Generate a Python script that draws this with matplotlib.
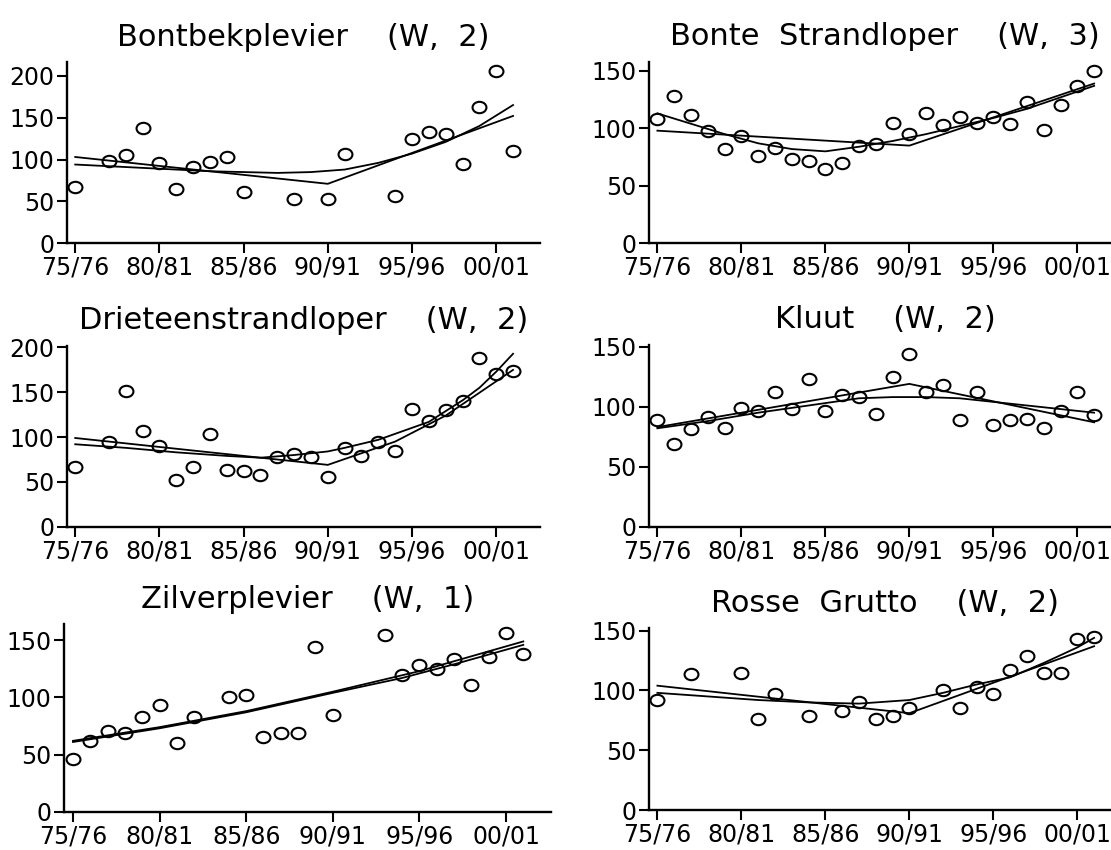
import matplotlib
matplotlib.use("Agg")
import matplotlib.pyplot as plt
from matplotlib.path import Path
from matplotlib.transforms import Affine2D

# seizoenen: index 0 = 75/76 ... 26 = 01/02
seizoen_ticks = [0, 5, 10, 15, 20, 25]
seizoen_labels = ["75/76", "80/81", "85/86", "90/91", "95/96", "00/01"]

# Bontbekplevier (W, 2)
bontbek_jaar = [0, 2, 3, 4, 5, 6, 7, 8, 9, 10, 13, 15, 16, 19, 20, 21, 22, 23, 24, 25, 26]
bontbek_index = [67, 98, 105, 137, 96, 65, 91, 97, 103, 61, 53, 53, 106, 57, 125, 133, 130, 95, 163, 206, 110]
bontbek_knik_jaar = [0, 15, 26]
bontbek_knik = [103, 71, 152]
bontbek_glad_jaar = [0, 2, 4, 6, 8, 10, 12, 14, 16, 18, 20, 22, 24, 26]
bontbek_glad = [94, 92, 90, 88, 86, 85, 84, 85, 88, 96, 107, 121, 140, 165]

# Bonte Strandloper (W, 3)
bonte_jaar = list(range(27))
bonte_index = [108, 128, 112, 98, 82, 93, 76, 83, 73, 72, 65, 70, 85, 86, 105, 95, 113, 103,
               110, 105, 110, 104, 123, 99, 120, 137, 150]
bonte_knik_jaar = [0, 15, 26]
bonte_knik = [98, 85, 139]
bonte_glad_jaar = [0, 2, 4, 6, 8, 10, 12, 14, 16, 18, 20, 22, 24, 26]
bonte_glad = [113, 104, 95, 87, 82, 80, 84, 89, 95, 102, 109, 117, 127, 137]

# Drieteenstrandloper (W, 2)
drie_jaar = [0, 2, 3, 4, 5, 6, 7, 8, 9, 10, 11, 12, 13, 14, 15, 16, 17, 18, 19, 20, 21, 22, 23, 24, 25, 26]
drie_index = [67, 94, 152, 107, 90, 52, 67, 104, 63, 62, 58, 78, 81, 78, 56, 88, 79, 95, 84, 131,
              118, 130, 140, 188, 170, 174]
drie_knik_jaar = [0, 15, 19, 22, 26]
drie_knik = [99, 69, 95, 124, 175]
drie_glad_jaar = [0, 3, 6, 9, 11, 13, 15, 16, 18, 21, 23, 24, 25, 26]
drie_glad = [92, 88, 83, 79, 77, 80, 84, 88, 97, 117, 141, 155, 173, 193]

# Kluut (W, 2)
kluut_jaar = list(range(27))
kluut_index = [89, 69, 81, 91, 82, 99, 96, 112, 98, 123, 96, 110, 108, 94, 125, 144, 112, 118,
               89, 112, 85, 89, 90, 82, 96, 112, 93]
kluut_knik_jaar = [0, 15, 26]
kluut_knik = [83, 119, 87]
kluut_glad_jaar = [0, 3, 6, 9, 12, 14, 16, 18, 20, 22, 24, 26]
kluut_glad = [82, 88, 95, 101, 107, 108, 108, 107, 104, 101, 98, 95]

# Zilverplevier (W, 1)
zilver_jaar = [0, 1, 2, 3, 4, 5, 6, 7, 9, 10, 11, 12, 13, 14, 15, 18, 19, 20, 21, 22, 23, 24, 25, 26]
zilver_index = [46, 62, 71, 69, 83, 93, 60, 83, 100, 102, 65, 69, 69, 144, 85, 155, 120, 128,
                125, 134, 111, 135, 156, 138]
zilver_knik_jaar = [0, 5, 10, 15, 20, 26]
zilver_knik = [62, 74, 88, 105, 123, 149]
zilver_glad_jaar = [0, 5, 10, 15, 19, 22, 26]
zilver_glad = [61, 73, 87, 104, 117, 129, 146]

# Rosse Grutto (W, 2)
rosse_jaar = [0, 2, 5, 6, 7, 9, 11, 12, 13, 14, 15, 17, 18, 19, 20, 21, 22, 23, 24, 25, 26]
rosse_index = [92, 114, 115, 76, 97, 79, 83, 90, 76, 79, 85, 100, 85, 103, 97, 117, 129, 115, 115, 143, 145]
rosse_knik_jaar = [0, 15, 26]
rosse_knik = [104, 81, 137]
rosse_glad_jaar = [0, 3, 6, 9, 12, 15, 17, 19, 21, 23, 25, 26]
rosse_glad = [98, 95, 92, 90, 89, 92, 98, 105, 111, 123, 136, 144]

plt.rcParams["font.family"] = "DejaVu Sans"

# iets platte open cirkels, zoals in het origineel
ellips = Path.unit_circle().transformed(Affine2D().scale(1.0, 0.82))

W, H = 1111, 850
fig = plt.figure(figsize=(W / 100, H / 100), dpi=100)

# pixel-box: left, right, y van de 0-lijn, bovenkant y-as
panelen = [
    ("Bontbekplevier    (W,  2)", bontbek_jaar, bontbek_index, bontbek_knik_jaar, bontbek_knik,
     bontbek_glad_jaar, bontbek_glad, 216, [0, 50, 100, 150, 200], (66.8, 540, 243.3, 62.3)),
    ("Bonte  Strandloper    (W,  3)", bonte_jaar, bonte_index, bonte_knik_jaar, bonte_knik,
     bonte_glad_jaar, bonte_glad, 158, [0, 50, 100, 150], (649, 1121, 243.3, 61.7)),
    ("Drieteenstrandloper    (W,  2)", drie_jaar, drie_index, drie_knik_jaar, drie_knik,
     drie_glad_jaar, drie_glad, 202, [0, 50, 100, 150, 200], (66.8, 540, 526.7, 345.7)),
    ("Kluut    (W,  2)", kluut_jaar, kluut_index, kluut_knik_jaar, kluut_knik,
     kluut_glad_jaar, kluut_glad, 151.4, [0, 50, 100, 150], (649, 1121, 526.7, 345)),
    ("Zilverplevier    (W,  1)", zilver_jaar, zilver_index, zilver_knik_jaar, zilver_knik,
     zilver_glad_jaar, zilver_glad, 164, [0, 50, 100, 150], (64.3, 551, 811.7, 624.3)),
    ("Rosse  Grutto    (W,  2)", rosse_jaar, rosse_index, rosse_knik_jaar, rosse_knik,
     rosse_glad_jaar, rosse_glad, 152, [0, 50, 100, 150], (649, 1121, 810, 628.3)),
]

for titel, xj, yi, kj, kv, gj, gv, ymax, yt, box in panelen:
    l, r, y0, ytop = box
    ax = fig.add_axes([l / W, (H - y0) / H, (r - l) / W, (y0 - ytop) / H])
    ax.plot(kj, kv, color="black", lw=1.3)
    ax.plot(gj, gv, color="black", lw=1.3)
    ax.plot(xj, yi, ls="none", marker=ellips, ms=10, mfc="none", mec="black", mew=1.5)
    ax.set_xlim(-0.5, 27.6)
    ax.set_ylim(0, ymax)
    ax.set_xticks(seizoen_ticks)
    ax.set_xticklabels(seizoen_labels)
    ax.set_yticks(yt)
    ax.tick_params(length=7, width=1.5, labelsize=17)
    ax.tick_params(axis="x", pad=2)
    ax.tick_params(axis="y", pad=2)
    for s in ["top", "right"]:
        ax.spines[s].set_visible(False)
    for s in ["left", "bottom"]:
        ax.spines[s].set_linewidth(1.7)
    ax.set_title(titel, fontsize=22, pad=12)

fig.savefig("out.png", dpi=100)
